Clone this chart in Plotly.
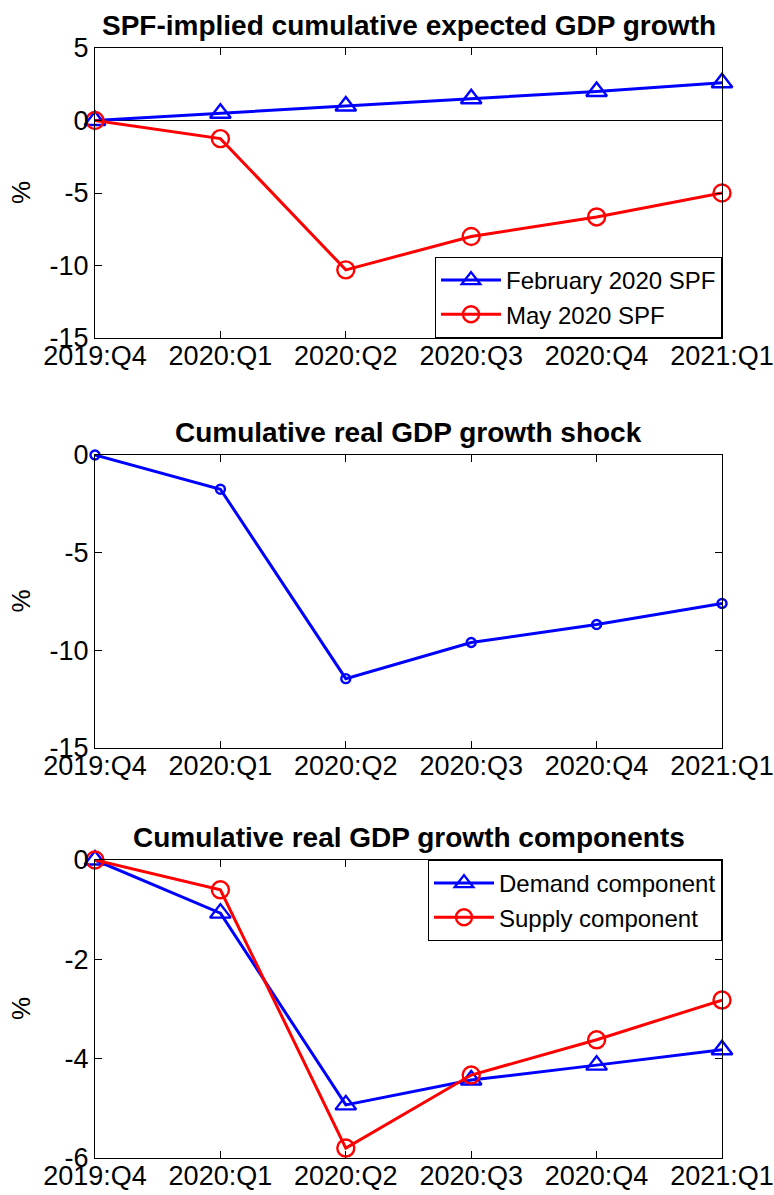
import plotly.graph_objects as go

quarters = ["2019:Q4", "2020:Q1", "2020:Q2", "2020:Q3", "2020:Q4", "2021:Q1"]

# SPF-implied cumulative expected GDP growth (%)
spf_feb = [0.0, 0.5, 1.0, 1.5, 2.0, 2.6]
spf_may = [0.0, -1.25, -10.3, -8.0, -6.65, -5.0]

# Cumulative real GDP growth shock (%)
gdp_shock = [0.0, -1.75, -11.45, -9.6, -8.68, -7.6]

# Demand / supply components (%)
demand = [0.0, -1.07, -4.93, -4.43, -4.13, -3.82]
supply = [0.0, -0.6, -5.8, -4.33, -3.62, -2.82]

BLUE = "#0000FF"
RED = "#FF0000"
FONT = "Liberation Sans"

W, H = 774, 1195
x_dom = [95 / W, 722 / W]
panels = [(48, 338), (455, 748), (860, 1158)]
y_doms = [[1 - b / H, 1 - t / H] for t, b in panels]

fig = go.Figure()

def add(y, name, color, symbol, size, axis, legend=None, show=True):
    fig.add_trace(go.Scatter(
        x=quarters, y=y, name=name, mode="lines+markers",
        line=dict(color=color, width=3),
        marker=dict(symbol=symbol, size=size, color=color,
                    line=dict(color=color, width=2.4)),
        xaxis="x" + axis, yaxis="y" + axis, cliponaxis=False,
        legend=legend, showlegend=show,
    ))

add(spf_feb, "February 2020 SPF", BLUE, "triangle-up-open", 18, "", "legend")
add(spf_may, "May 2020 SPF", RED, "circle-open", 17, "", "legend")
add(gdp_shock, "shock", BLUE, "circle-open", 9, "2", show=False)
add(demand, "Demand component", BLUE, "triangle-up-open", 18, "3", "legend2")
add(supply, "Supply component", RED, "circle-open", 17, "3", "legend2")

axis_common = dict(
    showline=True, linecolor="black", linewidth=1, mirror="ticks",
    ticks="inside", ticklen=7, tickcolor="black", showgrid=False,
    automargin=False,
    tickfont=dict(family=FONT, size=27, color="black"),
)

layout = dict(
    width=W, height=H, margin=dict(l=0, r=0, t=0, b=0),
    paper_bgcolor="white", plot_bgcolor="white",
    font=dict(family=FONT, color="black"),
)

yranges = [[-15, 5], [-15, 0], [-6, 0]]
yticks = [[-15, -10, -5, 0, 5], [-15, -10, -5, 0], [-6, -4, -2, 0]]
for i in range(3):
    sx = "" if i == 0 else str(i + 1)
    layout["xaxis" + sx] = dict(
        axis_common, domain=x_dom, anchor="y" + sx, type="category",
        range=[0, 5], tickangle=0, ticklabelstandoff=-6,
    )
    layout["yaxis" + sx] = dict(
        axis_common, domain=y_doms[i], anchor="x" + sx, range=yranges[i],
        tickvals=yticks[i], ticktext=[str(v) for v in yticks[i]],
        zeroline=(i == 0), zerolinecolor="black", zerolinewidth=1,
    )

legend_style = dict(
    bgcolor="white", bordercolor="black", borderwidth=1,
    font=dict(family=FONT, size=24, color="black"),
    xanchor="right", x=x_dom[1], tracegroupgap=0, itemwidth=60,
)
layout["legend"] = dict(legend_style, yanchor="bottom", y=y_doms[0][0])
layout["legend2"] = dict(legend_style, yanchor="top", y=y_doms[2][1])

titles = [
    "SPF-implied cumulative expected GDP growth",
    "Cumulative real GDP growth shock",
    "Cumulative real GDP growth components",
]
annotations = []
for i, t in enumerate(titles):
    annotations.append(dict(
        text="<b>" + t + "</b>", xref="paper", yref="paper",
        x=sum(x_dom) / 2, y=y_doms[i][1], yanchor="bottom", yshift=5,
        showarrow=False, font=dict(family=FONT, size=28, color="black"),
    ))
    annotations.append(dict(
        text="%", xref="paper", yref="paper", x=21 / W, xanchor="center",
        y=sum(y_doms[i]) / 2, yanchor="middle", textangle=-90,
        showarrow=False, font=dict(family=FONT, size=26, color="black"),
    ))
layout["annotations"] = annotations

fig.update_layout(**layout)
fig.write_html("out.html")
